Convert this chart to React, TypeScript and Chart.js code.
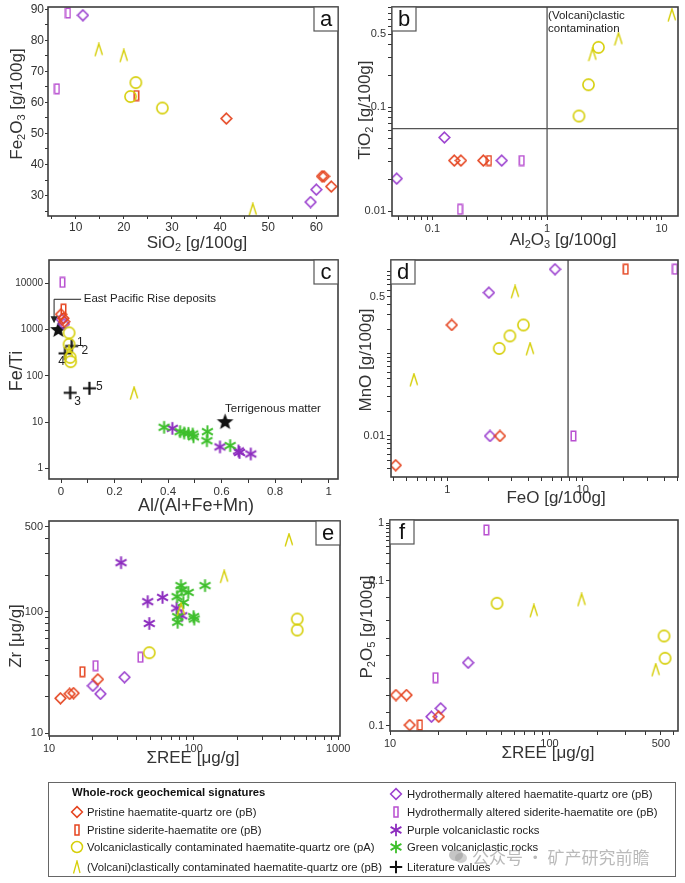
import React, { useEffect, useRef } from 'react';
import { Chart, registerables } from 'chart.js';

Chart.register(...registerables);

const PAGE_W = 685;
const PAGE_H = 883;
const FONT = '"Liberation Sans", Arial, Helvetica, sans-serif';

type Pt = [number, number];
type Lab = [number, string];

// ================= DATA =================
// (a) SiO2 vs Fe2O3 [g/100g]
const aPristineHq: Pt[] = [[41.3, 54.8], [61.2, 36.2], [61.6, 36.2], [63.1, 32.9]];
const aPristineSid: Pt[] = [[22.6, 62.2]];
const aVolcPA: Pt[] = [[22.5, 66.4], [21.4, 61.9], [28.0, 58.2]];
const aVolcPB: Pt[] = [[14.8, 76.9], [20.0, 75.0], [46.8, 25.4]];
const aHydroHq: Pt[] = [[11.5, 88.1], [60.0, 31.9], [58.8, 27.9]];
const aHydroSid: Pt[] = [[8.4, 88.8], [6.1, 64.4]];

// (b) Al2O3 vs TiO2 [g/100g]
const bPristineHq: Pt[] = [[0.155, 0.0306], [0.177, 0.0306], [0.278, 0.0306]];
const bPristineSid: Pt[] = [[0.311, 0.0306]];
const bVolcPA: Pt[] = [[2.81, 0.375], [2.3, 0.164], [1.9, 0.082]];
const bVolcPB: Pt[] = [[12.3, 0.764], [4.2, 0.45], [2.49, 0.318]];
const bHydroHq: Pt[] = [[0.127, 0.051], [0.402, 0.0306], [0.0487, 0.0205]];
const bHydroSid: Pt[] = [[0.601, 0.0306], [0.174, 0.0104]];
const bLimitAl = 1;
const bLimitTi = 0.062;

// (c) Al/(Al+Fe+Mn) vs Fe/Ti
const cPristineHq: Pt[] = [[0.0, 2140], [0.009, 1750], [0.012, 1480]];
const cPristineSid: Pt[] = [[0.009, 2760]];
const cVolcPA: Pt[] = [[0.03, 850], [0.03, 480], [0.034, 251], [0.036, 202]];
const cVolcPB: Pt[] = [[0.03, 330], [0.273, 41.7]];
const cHydroHq: Pt[] = [[0.0025, 1660], [0.011, 1315]];
const cHydroSid: Pt[] = [[0.005, 10500]];
const cPurpleVolc: Pt[] = [[0.416, 7.3], [0.594, 2.9], [0.663, 2.37], [0.667, 2.2], [0.709, 2.04]];
const cGreenVolc: Pt[] = [[0.385, 7.7], [0.445, 6.2], [0.46, 5.8], [0.476, 5.7], [0.492, 5.5], [0.495, 4.8], [0.547, 6.2], [0.545, 3.95], [0.632, 3.1]];
const cLiterature: Pt[] = [[0.04, 440], [0.015, 306], [0.034, 43], [0.106, 53.7]];
const cLiteratureLabels: [number, string][] = [[0, '1'], [0, '2'], [1, '4'], [2, '3'], [3, '5']];
const cReferenceStars: Pt[] = [[-0.01, 1000], [0.613, 10.2]];

// (d) FeO vs MnO [g/100g]
const dPristineHq: Pt[] = [[1.08, 0.226], [2.45, 0.01], [0.416, 0.0044]];
const dPristineSid: Pt[] = [[20.8, 1.08]];
const dVolcPA: Pt[] = [[3.65, 0.226], [2.9, 0.166], [2.42, 0.117]];
const dVolcPB: Pt[] = [[3.17, 0.57], [4.09, 0.115], [0.567, 0.048]];
const dHydroHq: Pt[] = [[6.25, 1.08], [2.03, 0.56], [2.07, 0.01]];
const dHydroSid: Pt[] = [[48, 1.08], [8.54, 0.01]];
const dLimitFeO = 7.8;

// (e) ΣREE vs Zr [µg/g]
const ePristineHq: Pt[] = [[21.8, 27.8], [14.8, 21.4], [13.9, 21.1], [12.0, 19.4]];
const ePristineSid: Pt[] = [[17, 32.1]];
const eVolcPA: Pt[] = [[521, 87], [521, 70.7], [49.4, 46]];
const eVolcPB: Pt[] = [[457, 388], [163, 194], [82, 104]];
const eHydroHq: Pt[] = [[33.3, 28.9], [20.1, 24.6], [22.7, 21.1]];
const eHydroSid: Pt[] = [[42.9, 42.2], [21, 36]];
const ePurpleVolc: Pt[] = [[31.5, 253], [61, 131], [48.2, 121], [76.4, 107], [82.9, 92.7], [49.4, 80]];
const eGreenVolc: Pt[] = [[120, 164], [81.8, 164], [82.9, 151], [91.8, 144], [76.9, 133], [85, 119], [77.6, 91], [100, 91], [101, 87], [77.6, 81.8]];

// (f) ΣREE vs P2O5 (axis as printed)
const fPristineHq: Pt[] = [[10.9, 0.00102], [12.7, 0.00102], [20.2, 0.000428], [13.3, 0.000306]];
const fPristineSid: Pt[] = [[15.4, 0.000306]];
const fVolcPA: Pt[] = [[46.9, 0.0404], [523, 0.01088], [531, 0.00445]];
const fVolcPB: Pt[] = [[79.8, 0.0297], [159, 0.0461], [464, 0.00278]];
const fHydroHq: Pt[] = [[30.9, 0.00373], [20.8, 0.000598], [18.2, 0.000428]];
const fHydroSid: Pt[] = [[40.2, 0.764], [19.3, 0.00204]];

// tick labels
const aXLabels: Lab[] = [[10, '10'], [20, '20'], [30, '30'], [40, '40'], [50, '50'], [60, '60']];
const aYLabels: Lab[] = [[30, '30'], [40, '40'], [50, '50'], [60, '60'], [70, '70'], [80, '80'], [90, '90']];
const aXMinor = [5, 10, 15, 20, 25, 30, 35, 40, 45, 50, 55, 60];
const aYMinor = [25, 30, 35, 40, 45, 50, 55, 60, 65, 70, 75, 80, 85, 90];
const bXLabels: Lab[] = [[0.1, '0.1'], [1, '1'], [10, '10']];
const bYLabels: Lab[] = [[0.01, '0.01'], [0.1, '0.1'], [0.5, '0.5']];
const cXLabels: Lab[] = [[0, '0'], [0.2, '0.2'], [0.4, '0.4'], [0.6, '0.6'], [0.8, '0.8'], [1, '1']];
const cXMinor = [0, 0.1, 0.2, 0.3, 0.4, 0.5, 0.6, 0.7, 0.8, 0.9, 1];
const cYLabels: Lab[] = [[1, '1'], [10, '10'], [100, '100'], [1000, '1000'], [10000, '10000']];
const dXLabels: Lab[] = [[1, '1'], [10, '10']];
const dYLabels: Lab[] = [[0.01, '0.01'], [0.5, '0.5']];
const eXLabels: Lab[] = [[10, '10'], [100, '100'], [1000, '1000']];
const eYLabels: Lab[] = [[10, '10'], [100, '100'], [500, '500']];
const fXLabels: Lab[] = [[10, '10'], [100, '100'], [500, '500']];
const fYLabels: Lab[] = [[1, '1'], [0.1, '0.1'], [0.000298, '0.1']];
const fYLowerTicks = [0.05, 0.02, 0.01, 0.005, 0.002, 0.001, 0.0005, 0.000298];

// ================= STYLE =================
const RED = '#e5441f';
const PURPLE_D = '#9b40cf';
const PURPLE_R = '#b84fd0';
const YELLOW = '#d6cf0a';
const PURPLE_S = '#8d2dbf';
const GREEN = '#3ebf2c';
const BLACK = '#111111';

function logTicks(lo: number, hi: number): number[] {
  const out: number[] = [];
  for (let e = Math.floor(Math.log10(lo)) - 1; e <= Math.ceil(Math.log10(hi)); e++) {
    for (let m = 1; m <= 9; m++) {
      const v = +(m * Math.pow(10, e)).toPrecision(6);
      if (v >= lo * 0.9999 && v <= hi * 1.0001) out.push(v);
    }
  }
  return out;
}

const markerCache: Record<string, HTMLCanvasElement> = {};
function marker(kind: string, color: string): HTMLCanvasElement {
  const key = kind + color;
  if (markerCache[key]) return markerCache[key];
  const sizes: Record<string, [number, number]> = {
    diamond: [13, 13], rect: [7, 12], circle: [15, 15], lambda: [10, 15],
    asterisk: [15, 15], plus: [15, 15], star: [19, 19],
  };
  const [w, h] = sizes[kind];
  const c = document.createElement('canvas');
  c.width = w; c.height = h;
  const g = c.getContext('2d')!;
  g.strokeStyle = color; g.fillStyle = color;
  if (kind === 'diamond') {
    g.lineWidth = 1.6; g.beginPath(); g.moveTo(6.5, 1.2); g.lineTo(11.8, 6.5); g.lineTo(6.5, 11.8); g.lineTo(1.2, 6.5); g.closePath(); g.stroke();
  } else if (kind === 'rect') {
    g.lineWidth = 1.5; g.strokeRect(1.25, 1.25, 4.5, 9.5);
  } else if (kind === 'circle') {
    g.lineWidth = 1.6; g.beginPath(); g.arc(7.5, 7.5, 5.6, 0, Math.PI * 2); g.stroke();
  } else if (kind === 'lambda') {
    g.lineWidth = 1.4; g.beginPath(); g.moveTo(1.2, 13.8); g.lineTo(5, 1.2); g.lineTo(8.6, 12.5); g.stroke();
  } else if (kind === 'asterisk') {
    g.lineWidth = 2;
    for (let k = 0; k < 3; k++) {
      const ang = Math.PI / 2 + (k * Math.PI) / 3;
      const dx = Math.cos(ang) * 6.3, dy = Math.sin(ang) * 6.3;
      g.beginPath(); g.moveTo(7.5 - dx, 7.5 - dy); g.lineTo(7.5 + dx, 7.5 + dy); g.stroke();
    }
  } else if (kind === 'plus') {
    g.lineWidth = 2.2; g.beginPath(); g.moveTo(1, 7.5); g.lineTo(14, 7.5); g.moveTo(7.5, 1); g.lineTo(7.5, 14); g.stroke();
  } else if (kind === 'star') {
    g.beginPath();
    for (let k = 0; k < 10; k++) {
      const r = k % 2 === 0 ? 8.8 : 3.7;
      const a = -Math.PI / 2 + (k * Math.PI) / 5;
      const x = 9.5 + r * Math.cos(a), y = 10 + r * Math.sin(a);
      if (k === 0) g.moveTo(x, y); else g.lineTo(x, y);
    }
    g.closePath(); g.fill();
  }
  markerCache[key] = c;
  return c;
}

type Seg = [string, boolean?];
interface AxisSpec {
  type: 'linear' | 'logarithmic';
  min: number; max: number;
  ticks: number[];
  labels: Lab[];
  font: number;
  tickLen?: number;
  pad?: number;
}
interface PanelSpec {
  area: { l: number; t: number; r: number; b: number };
  x: AxisSpec; y: AxisSpec;
  series: { data: Pt[]; kind: string; color: string }[];
  xTitle: { segs: Seg[]; cx: number; cy: number; size: number };
  yTitle: { segs: Seg[]; cx: number; cy: number; size: number };
  letter: string;
  corner: 'tl' | 'tr';
  under?: (chart: any, ctx: CanvasRenderingContext2D) => void;
  over?: (chart: any, ctx: CanvasRenderingContext2D) => void;
}

const Y_W = 40;
const X_H = 30;

function labelFor(labels: Lab[], v: number): string {
  for (const [lv, t] of labels) {
    if (Math.abs(v - lv) <= Math.abs(lv) * 1e-6 + 1e-12) return t;
  }
  return '';
}

function axisCfg(pos: 'x' | 'y', a: AxisSpec) {
  return {
    type: a.type,
    position: pos === 'x' ? 'bottom' : 'left',
    min: a.min,
    max: a.max,
    bounds: 'data',
    afterBuildTicks: (sc: any) => { sc.ticks = a.ticks.map((v) => ({ value: v })); },
    afterFit: (sc: any) => {
      if (pos === 'x') sc.height = X_H; else sc.width = Y_W;
      sc.paddingLeft = 0; sc.paddingRight = 0; sc.paddingTop = 0; sc.paddingBottom = 0;
    },
    ticks: {
      autoSkip: false, maxRotation: 0, minRotation: 0,
      padding: a.pad ?? 2,
      color: '#333',
      font: { family: FONT, size: a.font },
      callback: (v: any) => labelFor(a.labels, Number(v)),
    },
    grid: { drawOnChartArea: false, drawTicks: true, tickLength: a.tickLen ?? 4, color: '#333', tickColor: '#333', lineWidth: 1 },
    border: { display: false },
    title: { display: false },
  };
}

function drawRich(ctx: CanvasRenderingContext2D, segs: Seg[], cx: number, cy: number, size: number, rotate: boolean) {
  ctx.save();
  ctx.translate(cx, cy);
  if (rotate) ctx.rotate(-Math.PI / 2);
  const big = `${size}px ${FONT}`;
  const small = `${Math.round(size * 0.62)}px ${FONT}`;
  let w = 0;
  for (const [t, sub] of segs) { ctx.font = sub ? small : big; w += ctx.measureText(t).width; }
  let x = -w / 2;
  ctx.textBaseline = 'middle'; ctx.textAlign = 'left'; ctx.fillStyle = '#333';
  for (const [t, sub] of segs) {
    ctx.font = sub ? small : big;
    ctx.fillText(t, x, sub ? size * 0.3 : 0);
    x += ctx.measureText(t).width;
  }
  ctx.restore();
}

function decoPlugin(s: PanelSpec) {
  return {
    id: 'deco' + s.letter,
    beforeDatasetsDraw(chart: any) {
      if (s.under) s.under(chart, chart.ctx);
    },
    afterDatasetsDraw(chart: any) {
      const ctx: CanvasRenderingContext2D = chart.ctx;
      const ca = chart.chartArea;
      if (s.over) s.over(chart, ctx);
      ctx.save();
      ctx.strokeStyle = '#3d3d3d'; ctx.lineWidth = 1.6;
      ctx.strokeRect(ca.left, ca.top, ca.right - ca.left, ca.bottom - ca.top);
      const bw = 24, bh = 24;
      const bx = s.corner === 'tl' ? ca.left : ca.right - bw;
      const by = ca.top;
      ctx.fillStyle = '#fff'; ctx.fillRect(bx, by, bw, bh);
      ctx.strokeStyle = '#555'; ctx.lineWidth = 1.2; ctx.strokeRect(bx, by, bw, bh);
      ctx.fillStyle = '#111'; ctx.font = `22px ${FONT}`; ctx.textAlign = 'center'; ctx.textBaseline = 'middle';
      ctx.fillText(s.letter, bx + bw / 2, by + bh / 2 + 0.5);
      ctx.restore();
      drawRich(ctx, s.xTitle.segs, s.xTitle.cx, s.xTitle.cy, s.xTitle.size, false);
      drawRich(ctx, s.yTitle.segs, s.yTitle.cx, s.yTitle.cy, s.yTitle.size, true);
    },
  };
}

function series(pristineHq: Pt[], pristineSid: Pt[], volcPA: Pt[], volcPB: Pt[], hydroHq: Pt[], hydroSid: Pt[]) {
  return [
    { data: volcPB, kind: 'lambda', color: YELLOW },
    { data: volcPA, kind: 'circle', color: YELLOW },
    { data: pristineSid, kind: 'rect', color: RED },
    { data: pristineHq, kind: 'diamond', color: RED },
    { data: hydroSid, kind: 'rect', color: PURPLE_R },
    { data: hydroHq, kind: 'diamond', color: PURPLE_D },
  ];
}

const panelA = (): PanelSpec => ({
  area: { l: 48, t: 5, r: 338, b: 216 },
  x: { type: 'linear', min: 4.25, max: 64.5, ticks: aXMinor, labels: aXLabels, font: 12, tickLen: 3, pad: 1 },
  y: { type: 'linear', min: 23.4, max: 90.75, ticks: aYMinor, labels: aYLabels, font: 12, tickLen: 3, pad: 1 },
  series: series(aPristineHq, aPristineSid, aVolcPA, aVolcPB, aHydroHq, aHydroSid),
  xTitle: { segs: [['SiO'], ['2', true], [' [g/100g]']], cx: 197, cy: 243, size: 17 },
  yTitle: { segs: [['Fe'], ['2', true], ['O'], ['3', true], [' [g/100g]']], cx: 17, cy: 104, size: 17 },
  letter: 'a', corner: 'tr',
});

const panelB = (): PanelSpec => ({
  area: { l: 392, t: 5, r: 678, b: 216 },
  x: { type: 'logarithmic', min: 0.0443, max: 13.9, ticks: logTicks(0.05, 10), labels: bXLabels, font: 11 },
  y: { type: 'logarithmic', min: 0.00896, max: 0.916, ticks: logTicks(0.01, 0.9), labels: bYLabels, font: 11 },
  series: series(bPristineHq, bPristineSid, bVolcPA, bVolcPB, bHydroHq, bHydroSid),
  xTitle: { segs: [['Al'], ['2', true], ['O'], ['3', true], [' [g/100g]']], cx: 563, cy: 240, size: 17 },
  yTitle: { segs: [['TiO'], ['2', true], [' [g/100g]']], cx: 365, cy: 110, size: 17 },
  letter: 'b', corner: 'tl',
  under: (chart, ctx) => {
    const ca = chart.chartArea;
    const X = chart.scales.x.getPixelForValue(bLimitAl);
    const Y = chart.scales.y.getPixelForValue(bLimitTi);
    ctx.save();
    ctx.strokeStyle = '#555'; ctx.lineWidth = 1.3;
    ctx.beginPath(); ctx.moveTo(X, ca.top); ctx.lineTo(X, ca.bottom); ctx.moveTo(ca.left, Y); ctx.lineTo(ca.right, Y); ctx.stroke();
    ctx.fillStyle = '#222'; ctx.font = `11.5px ${FONT}`; ctx.textAlign = 'left'; ctx.textBaseline = 'middle';
    ctx.fillText('(Volcani)clastic', X + 1, ca.top + 9);
    ctx.fillText('contamination', X + 1, ca.top + 22);
    ctx.restore();
  },
});

const panelC = (): PanelSpec => ({
  area: { l: 49, t: 260, r: 338, b: 479 },
  x: { type: 'linear', min: -0.045, max: 1.035, ticks: cXMinor, labels: cXLabels, font: 11.5 },
  y: { type: 'logarithmic', min: 0.587, max: 31900, ticks: [1, 10, 100, 1000, 10000], labels: cYLabels, font: 10 },
  series: [
    ...series(cPristineHq, cPristineSid, cVolcPA, cVolcPB, cHydroHq, cHydroSid),
    { data: cGreenVolc, kind: 'asterisk', color: GREEN },
    { data: cPurpleVolc, kind: 'asterisk', color: PURPLE_S },
    { data: cLiterature, kind: 'plus', color: BLACK },
    { data: cReferenceStars, kind: 'star', color: BLACK },
  ],
  xTitle: { segs: [['Al/(Al+Fe+Mn)']], cx: 196, cy: 506, size: 18 },
  yTitle: { segs: [['Fe/Ti']], cx: 17, cy: 371, size: 18 },
  letter: 'c', corner: 'tr',
  over: (chart, ctx) => {
    const X = (v: number) => chart.scales.x.getPixelForValue(v);
    const Y = (v: number) => chart.scales.y.getPixelForValue(v);
    ctx.save();
    ctx.fillStyle = '#222'; ctx.strokeStyle = '#222'; ctx.lineWidth = 1;
    ctx.font = `11.5px ${FONT}`; ctx.textBaseline = 'middle'; ctx.textAlign = 'left';
    const ty = Y(4510);
    ctx.fillText('East Pacific Rise deposits', X(0.085), ty);
    const ax = X(-0.026);
    const tip = Y(1365);
    ctx.beginPath(); ctx.moveTo(X(0.075), ty); ctx.lineTo(ax, ty); ctx.lineTo(ax, tip - 6); ctx.stroke();
    ctx.beginPath(); ctx.moveTo(ax - 3.5, tip - 7); ctx.lineTo(ax + 3.5, tip - 7); ctx.lineTo(ax, tip); ctx.closePath(); ctx.fill();
    ctx.fillText('Terrigenous matter', X(0.613), Y(19.1));
    const offs: Pt[] = [[8.5, -3.5], [13, 5], [-3.5, 8], [7.5, 8.5], [10, -2]];
    ctx.font = `12px ${FONT}`; ctx.textAlign = 'center';
    cLiteratureLabels.forEach(([i, t], k) => {
      const [px, py] = cLiterature[i];
      ctx.fillText(t, X(px) + offs[k][0], Y(py) + offs[k][1]);
    });
    ctx.restore();
  },
});

const panelD = (): PanelSpec => ({
  area: { l: 391, t: 260, r: 678, b: 477 },
  x: { type: 'logarithmic', min: 0.384, max: 50.6, ticks: logTicks(0.4, 50), labels: dXLabels, font: 11 },
  y: { type: 'logarithmic', min: 0.00316, max: 1.4, ticks: logTicks(0.004, 1), labels: dYLabels, font: 11 },
  series: series(dPristineHq, dPristineSid, dVolcPA, dVolcPB, dHydroHq, dHydroSid),
  xTitle: { segs: [['FeO [g/100g]']], cx: 556, cy: 498, size: 17 },
  yTitle: { segs: [['MnO [g/100g]']], cx: 366, cy: 360, size: 17 },
  letter: 'd', corner: 'tl',
  under: (chart, ctx) => {
    const ca = chart.chartArea;
    const X = chart.scales.x.getPixelForValue(dLimitFeO);
    ctx.save();
    ctx.strokeStyle = '#444'; ctx.lineWidth = 1.3;
    ctx.beginPath(); ctx.moveTo(X, ca.top); ctx.lineTo(X, ca.bottom); ctx.stroke();
    ctx.restore();
  },
});

const panelE = (): PanelSpec => ({
  area: { l: 49, t: 521, r: 340, b: 736 },
  x: { type: 'logarithmic', min: 10, max: 1030, ticks: logTicks(10, 1000), labels: eXLabels, font: 11 },
  y: { type: 'logarithmic', min: 9.5, max: 557, ticks: logTicks(10, 500), labels: eYLabels, font: 11 },
  series: [
    ...series(ePristineHq, ePristineSid, eVolcPA, eVolcPB, eHydroHq, eHydroSid),
    { data: eGreenVolc, kind: 'asterisk', color: GREEN },
    { data: ePurpleVolc, kind: 'asterisk', color: PURPLE_S },
  ],
  xTitle: { segs: [['ΣREE [μg/g]']], cx: 193, cy: 758, size: 17 },
  yTitle: { segs: [['Zr [μg/g]']], cx: 16, cy: 636, size: 17 },
  letter: 'e', corner: 'tr',
});

const panelF = (): PanelSpec => ({
  area: { l: 390, t: 520, r: 679, b: 731 },
  x: { type: 'logarithmic', min: 10, max: 640, ticks: logTicks(10, 600), labels: fXLabels, font: 11 },
  y: { type: 'logarithmic', min: 0.000241, max: 1.14, ticks: [...logTicks(0.1, 1), ...fYLowerTicks], labels: fYLabels, font: 11 },
  series: series(fPristineHq, fPristineSid, fVolcPA, fVolcPB, fHydroHq, fHydroSid),
  xTitle: { segs: [['ΣREE [μg/g]']], cx: 548, cy: 753, size: 17 },
  yTitle: { segs: [['P'], ['2', true], ['O'], ['5', true], [' [g/100g]']], cx: 367, cy: 627, size: 17 },
  letter: 'f', corner: 'tl',
});

function Panel({ make }: { make: () => PanelSpec }) {
  const ref = useRef<HTMLCanvasElement>(null);
  useEffect(() => {
    const s = make();
    const cfg: any = {
      type: 'scatter',
      data: {
        datasets: s.series.map((se) => ({
          data: se.data.map(([x, y]) => ({ x, y })),
          pointStyle: marker(se.kind, se.color),
          pointRadius: 6,
          pointHoverRadius: 6,
          showLine: false,
        })),
      },
      options: {
        responsive: false,
        animation: false,
        events: [],
        layout: {
          padding: { left: s.area.l - Y_W, top: s.area.t, right: PAGE_W - s.area.r, bottom: PAGE_H - s.area.b - X_H },
        },
        plugins: { legend: { display: false }, tooltip: { enabled: false }, title: { display: false } },
        scales: { x: axisCfg('x', s.x), y: axisCfg('y', s.y) },
      },
      plugins: [decoPlugin(s)],
    };
    const chart = new Chart(ref.current!, cfg);
    return () => chart.destroy();
  }, []);
  return (
    <canvas
      ref={ref}
      width={PAGE_W}
      height={PAGE_H}
      style={{ position: 'absolute', left: 0, top: 0, width: PAGE_W, height: PAGE_H }}
    />
  );
}

function Icon({ kind, color }: { kind: string; color: string }) {
  const common = { fill: 'none', stroke: color };
  let el: any = null;
  if (kind === 'diamond') el = <path d="M7 1.6 L12.4 7 L7 12.4 L1.6 7 Z" {...common} strokeWidth={1.5} />;
  else if (kind === 'rect') el = <rect x={5} y={2} width={4} height={10} {...common} strokeWidth={1.5} />;
  else if (kind === 'circle') el = <circle cx={7} cy={7} r={5.5} {...common} strokeWidth={1.5} />;
  else if (kind === 'lambda') el = <path d="M3.5 13.5 L7 1 L10 13" {...common} strokeWidth={1.3} />;
  else if (kind === 'asterisk') el = <path d="M7 0.8 L7 13.2 M1.6 3.9 L12.4 10.1 M1.6 10.1 L12.4 3.9" {...common} strokeWidth={1.8} />;
  else if (kind === 'plus') el = <path d="M0.8 7 L13.2 7 M7 0.8 L7 13.2" {...common} strokeWidth={2} />;
  return <svg width={14} height={14} style={{ position: 'absolute', left: -7, top: -7 }}>{el}</svg>;
}

const legendLeft = [
  { kind: 'diamond', color: RED, text: 'Pristine haematite-quartz ore (pB)', y: 812 },
  { kind: 'rect', color: RED, text: 'Pristine siderite-haematite ore (pB)', y: 829.5 },
  { kind: 'circle', color: YELLOW, text: 'Volcaniclastically contaminated haematite-quartz ore (pA)', y: 847 },
  { kind: 'lambda', color: YELLOW, text: '(Volcani)clastically contaminated haematite-quartz ore (pB)', y: 866.5 },
];
const legendRight = [
  { kind: 'diamond', color: PURPLE_D, text: 'Hydrothermally altered haematite-quartz ore (pB)', y: 794 },
  { kind: 'rect', color: PURPLE_R, text: 'Hydrothermally altered siderite-haematite ore (pB)', y: 812 },
  { kind: 'asterisk', color: PURPLE_S, text: 'Purple volcaniclastic rocks', y: 829.5 },
  { kind: 'asterisk', color: GREEN, text: 'Green volcaniclastic rocks', y: 847 },
  { kind: 'plus', color: BLACK, text: 'Literature values', y: 866.5 },
];

function LegendRow({ item, mx, tx }: { item: any; mx: number; tx: number }) {
  return (
    <>
      <div style={{ position: 'absolute', left: mx, top: item.y, width: 0, height: 0 }}>
        <Icon kind={item.kind} color={item.color} />
      </div>
      <div style={{ position: 'absolute', left: tx, top: item.y - 8, height: 16, lineHeight: '16px', fontSize: 11.3, whiteSpace: 'nowrap', color: '#222' }}>
        {item.text}
      </div>
    </>
  );
}

function Legend() {
  return (
    <div style={{ position: 'absolute', left: 0, top: 0, width: PAGE_W, height: PAGE_H, fontFamily: FONT, pointerEvents: 'none' }}>
      <div style={{ position: 'absolute', left: 48, top: 782, width: 628, height: 95, border: '1px solid #666', boxSizing: 'border-box' }} />
      <div style={{ position: 'absolute', left: 72, top: 784, height: 16, lineHeight: '16px', fontSize: 11.3, fontWeight: 'bold', whiteSpace: 'nowrap', color: '#111' }}>
        Whole-rock geochemical signatures
      </div>
      {legendLeft.map((it, i) => <LegendRow key={'l' + i} item={it} mx={77} tx={87} />)}
      {legendRight.map((it, i) => <LegendRow key={'r' + i} item={it} mx={396} tx={407} />)}
      <div style={{ position: 'absolute', left: 448, top: 845, height: 22, display: 'flex', alignItems: 'center', color: 'rgba(140,140,140,0.6)', fontFamily: '"Noto Sans CJK SC", sans-serif', fontSize: 17, whiteSpace: 'nowrap' }}>
        <svg width={20} height={18} style={{ marginRight: 4 }}>
          <ellipse cx={8} cy={8} rx={7} ry={6} fill="rgba(150,150,150,0.55)" />
          <ellipse cx={13} cy={11} rx={6} ry={5} fill="rgba(150,150,150,0.45)" />
        </svg>
        公众号 · 矿产研究前瞻
      </div>
    </div>
  );
}

export default function App() {
  return (
    <div style={{ position: 'absolute', left: 0, top: 0, width: PAGE_W, height: PAGE_H, background: '#fff', overflow: 'hidden' }}>
      <Panel make={panelA} />
      <Panel make={panelB} />
      <Panel make={panelC} />
      <Panel make={panelD} />
      <Panel make={panelE} />
      <Panel make={panelF} />
      <Legend />
    </div>
  );
}
